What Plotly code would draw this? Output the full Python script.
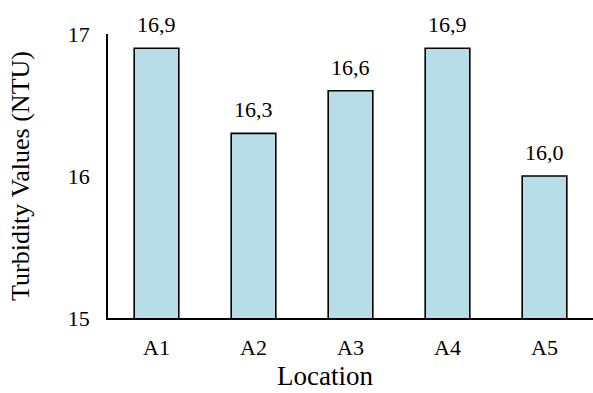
import plotly.graph_objects as go

locations = ["A1", "A2", "A3", "A4", "A5"]
turbidity = [16.9, 16.3, 16.6, 16.9, 16.0]
value_labels = ["16,9", "16,3", "16,6", "16,9", "16,0"]
y_ticks = [15, 16, 17]
x_title = "Location"
y_title = "Turbidity Values (NTU)"

font_family = "Liberation Serif"
tick_size = 22

fig = go.Figure(
    go.Bar(
        x=locations,
        y=turbidity,
        marker=dict(color="#B7DEE8", line=dict(color="black", width=1.6)),
        width=0.46,
        hoverinfo="x+y",
    )
)

for loc, val, lab in zip(locations, turbidity, value_labels):
    fig.add_annotation(
        x=loc, y=val, text=lab, showarrow=False,
        xref="x", yref="y", yanchor="bottom", yshift=9,
        font=dict(family=font_family, size=tick_size, color="black"),
    )

# x-axis title placed as an annotation (axis titles are clamped inside the margin)
fig.add_annotation(
    x=0.447, y=0, xref="paper", yref="paper", text=x_title, showarrow=False,
    xanchor="center", yanchor="middle", yshift=-58,
    font=dict(family=font_family, size=27, color="black"),
)

fig.update_layout(
    width=593,
    height=393,
    margin=dict(l=108, r=0, t=34, b=75, autoexpand=False),
    plot_bgcolor="white",
    paper_bgcolor="white",
    showlegend=False,
    font=dict(family=font_family, size=tick_size, color="black"),
)

fig.update_xaxes(
    automargin=False,
    showline=True,
    linecolor="black",
    linewidth=2.2,
    ticks="",
    ticklen=0,
    ticklabelstandoff=8,
    tickfont=dict(family=font_family, size=tick_size, color="black"),
)

fig.update_yaxes(
    automargin=False,
    range=[15, 17],
    tickvals=y_ticks,
    showline=True,
    linecolor="black",
    linewidth=1.6,
    showgrid=False,
    zeroline=False,
    ticks="",
    ticklen=0,
    ticklabelstandoff=12,
    tickfont=dict(family=font_family, size=tick_size, color="black"),
    title=dict(text=y_title, font=dict(family=font_family, size=26, color="black"), standoff=31),
)

fig.write_html(
    "out.html",
    config={"displayModeBar": False},
    post_script="document.body.style.margin='0';document.body.style.overflow='hidden';",
)
